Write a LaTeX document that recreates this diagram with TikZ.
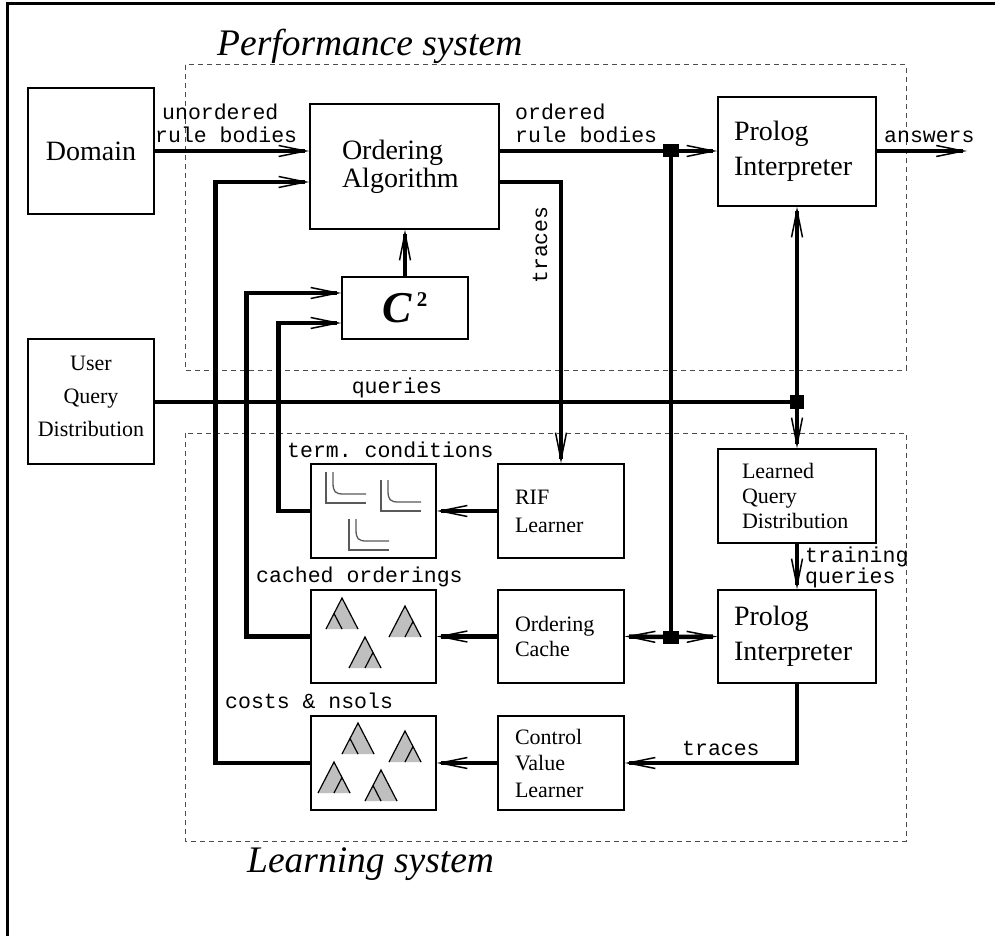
\documentclass[tikz,border=0pt]{standalone}
\usepackage{fontspec}
\setmainfont{Liberation Serif}
\setmonofont{Liberation Mono}
\usetikzlibrary{arrows.meta}
\tikzset{
  box/.style={draw, line width=1.2pt, inner ysep=0pt},
  bigtxt/.style={font=\fontsize{28}{28}\selectfont, align=left},
  prtxt/.style={font=\fontsize{28}{35}\selectfont, align=left},
  smalltxt/.style={font=\fontsize{22}{#1}\selectfont, align=left},
  thickline/.style={line width=4.5pt},
  flow/.style={thickline, -{Straight Barb[length=27pt,width=11pt,line width=1.5pt]}},
  junc/.style={fill=black, inner sep=0pt, minimum width=16pt, minimum height=13pt},
  lbl/.style={font=\fontsize{21.5}{#1}\selectfont\ttfamily, inner sep=0pt, anchor=base west},
  lbl/.default=23,
  systitle/.style={font=\fontsize{37.5}{40}\selectfont\itshape, inner sep=0pt, anchor=base west},
  sysbox/.style={draw=black!70, line width=1pt, dash pattern=on 5pt off 4pt},
  icon/.style={draw=black!65, line width=1.3pt},
  pics/lcurve/.style={code={
    \draw[icon] (0,0) -- (0,31) -- (40,31);
    \draw[icon] (7,0) -- (7,10) .. controls (7,20) and (9,22) .. (18,22) -- (40,22);
  }},
  pics/treeL/.style={code={
    \fill[black!25] (-16,31) -- (0,0) -- (16,31) -- cycle;
    \draw[line width=1.2pt] (-16,31) -- (0,0) -- (16,31);
    \draw[line width=1.2pt] (-8,15.5) -- (0,31);
  }},
  pics/treeR/.style={code={
    \fill[black!25] (-16,31) -- (0,0) -- (16,31) -- cycle;
    \draw[line width=1.2pt] (-16,31) -- (0,0) -- (16,31);
    \draw[line width=1.2pt] (8,15.5) -- (0,31);
  }},
}
\begin{document}
\begin{tikzpicture}[x=1pt,y=-1pt]
\useasboundingbox (0,0) rectangle (995,936);
\fill[white] (0,0) rectangle (995,936);
% outer frame
\draw[line width=3pt] (7,945) -- (7,4) -- (1005,4);

% system boxes
\draw[sysbox] (185,65) rectangle (906,370);
\draw[sysbox] (185,433) rectangle (906,841);
\node[systitle] (tperf) at (217,56) {Performance system};
\node[systitle] (tlearn) at (247,872) {Learning system};

% boxes
\node[box, font=\fontsize{28}{28}\selectfont, minimum width=126pt, minimum height=126pt] (dom) at (91,151) {Domain};
\node[box, bigtxt, minimum width=189pt, minimum height=125pt, text width=125pt, inner xsep=32pt] (ord) at (404.5,166.5) {Ordering\\Algorithm};
\node[box, prtxt, minimum width=158pt, minimum height=109pt, text width=126pt, inner xsep=16pt] (pi1) at (797,151.5) {Prolog\\Interpreter};
\node[box, minimum width=126pt, minimum height=62pt] (c2) at (405,308) {\fontsize{44}{44}\selectfont\bfseries\itshape C\hspace{5pt}\raisebox{16pt}{\fontsize{21}{21}\selectfont\bfseries\upshape 2}};
\node[box, font=\fontsize{22}{33}\selectfont, align=center, minimum width=126pt, minimum height=125pt] (uqd) at (91,401.5) {User\\Query\\Distribution\strut};
\node[box, smalltxt=28, minimum width=126pt, minimum height=94pt, text width=92pt, inner xsep=17pt] (rif) at (561,511) {RIF\\Learner};
\node[box, smalltxt=25, minimum width=158pt, minimum height=94pt, text width=110pt, inner xsep=24pt] (lqd) at (797,496) {Learned\\Query\\Distribution};
\node[box, smalltxt=25, minimum width=126pt, minimum height=93pt, text width=92pt, inner xsep=17pt] (cache) at (561,636.5) {Ordering\\Cache};
\node[box, prtxt, minimum width=158pt, minimum height=93pt, text width=126pt, inner xsep=16pt] (pi2) at (797,636.5) {Prolog\\Interpreter};
\node[box, smalltxt=26.5, minimum width=126pt, minimum height=94pt, text width=92pt, inner xsep=17pt] (cvl) at (561,763) {Control\\Value\\Learner};
\node[box, minimum width=125pt, minimum height=94pt] (term) at (373.5,511) {};
\node[box, minimum width=125pt, minimum height=93pt] (cached) at (373.5,636.5) {};
\node[box, minimum width=125pt, minimum height=94pt] (costs) at (373.5,763) {};

% icons
\pic at (326,472) {lcurve};
\pic at (381,480) {lcurve};
\pic at (349,519) {lcurve};
\pic at (342,598) {treeL};
\pic at (405,606) {treeR};
\pic at (365,637) {treeR};
\pic at (358,723) {treeL};
\pic at (405,731) {treeR};
\pic at (334,762) {treeR};
\pic at (381,770) {treeL};

% junctions
\node[junc] (j1) at (671,151) {};
\node[junc, minimum width=14pt, minimum height=14pt] (j2) at (797,402) {};
\node[junc] (j3) at (671,637) {};
\coordinate (ans) at (967,151);

% connectors
\draw[flow] (dom.east) -- (ord.west |- dom.east);
\draw[flow] (costs.west) -- ++(-95,0) |- ([yshift=-15.5pt]ord.west);
\draw[flow] (cached.west) -- ++(-64,0) |- ([yshift=15pt]c2.west);
\draw[flow] (term.west) -- ++(-32,0) |- ([yshift=-15pt]c2.west);
\draw[flow] (c2.north) -- (c2.north |- ord.south);
\draw[flow] (ord.east |- dom.east) -- (pi1.west |- dom.east);
\draw[flow] ([yshift=-15.5pt]ord.east) -| (rif.north);
\draw[flow] (pi1.east |- ans) -- (ans);
\draw[thickline] (uqd.east |- j2) -- (j2.center);
\draw[flow] (j2) -- (pi1.south);
\draw[flow] (j2) -- (lqd.north);
\draw[flow] (lqd.south) -- (pi2.north);
\draw[flow] (rif.west) -- (term.east);
\draw[flow] (cache.west) -- (cached.east);
\draw[thickline] (j1.center) -- (j3.center);
\draw[flow] (j3) -- (cache.east);
\draw[flow] (j3) -- (pi2.west);
\draw[flow] (cvl.west) -- (costs.east);
\draw[flow] (pi2.south) |- (cvl.east);
\node[junc] at (j1) {};
\node[junc] at (j3) {};
\node[junc, minimum width=14pt, minimum height=14pt] at (j2) {};

% labels
\node[lbl] (lunord) at (155,120) {\begin{tabular}[t]{@{}l@{}}\hspace*{7pt}unordered\\rule bodies\end{tabular}};
\node[lbl] (lord) at (515,120) {\begin{tabular}[t]{@{}l@{}}ordered\\rule bodies\end{tabular}};
\node[lbl] (lans) at (884,143) {answers};
\node[font=\fontsize{21.5}{23}\selectfont\ttfamily, inner sep=0pt, rotate=90] (ltr1) at (540,245) {traces};
\node[lbl, anchor=base] (lq) at (397,393) {queries};
\node[lbl] (lterm) at (287,457) {term. conditions};
\node[lbl] (lcache) at (256,582) {cached orderings};
\node[lbl] (lcost) at (225,708) {costs \& nsols};
\node[lbl=20] (ltrain) at (805,562) {\begin{tabular}[t]{@{}l@{}}training\\queries\end{tabular}};
\node[lbl] (ltr2) at (682,755) {traces};
\end{tikzpicture}
\end{document}
